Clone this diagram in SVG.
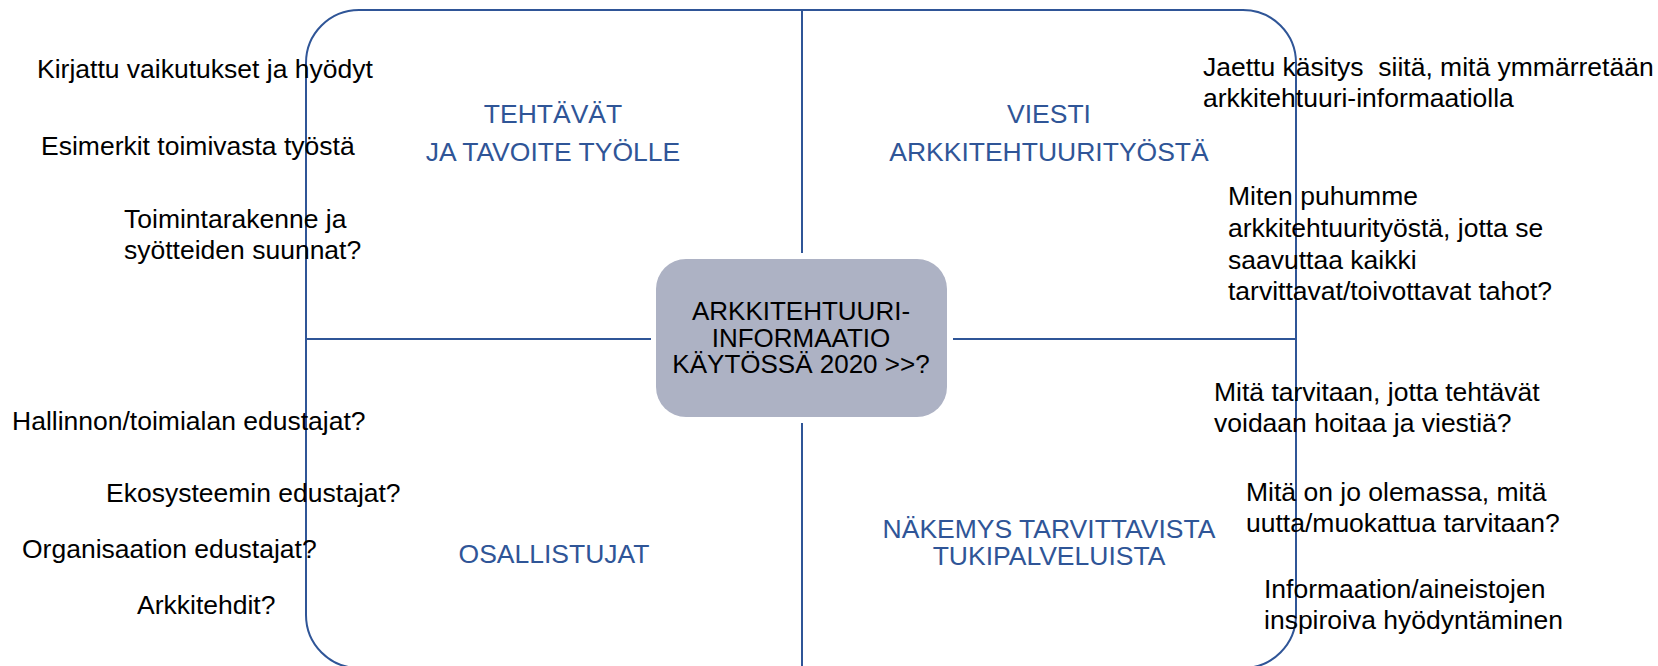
<svg xmlns="http://www.w3.org/2000/svg" width="1658" height="666" viewBox="0 0 1658 666">
<style>
.t{font-family:"Liberation Sans",Arial,sans-serif;font-size:26.5px;fill:#000}
.b{font-family:"Liberation Sans",Arial,sans-serif;font-size:26.5px;fill:#2F5597;text-anchor:middle}
.c{font-family:"Liberation Sans",Arial,sans-serif;font-size:26px;fill:#000;text-anchor:middle}
.ln{stroke:#2F5597;stroke-width:2;fill:none}
</style>
<rect width="1658" height="666" fill="#fff"/>
<g id="frame">
<rect class="ln" x="306" y="10" width="990" height="658" rx="53" ry="53"/>
</g>
<g id="connectors">
<line class="ln" x1="802" y1="10" x2="802" y2="253"/>
<line class="ln" x1="802" y1="423" x2="802" y2="666"/>
<line class="ln" x1="306" y1="339" x2="651" y2="339"/>
<line class="ln" x1="953" y1="339" x2="1296" y2="339"/>
</g>
<g id="center">
<rect x="656" y="259" width="291" height="158" rx="30" ry="30" fill="#ADB2C4"/>
<text class="c" x="801" y="320">ARKKITEHTUURI-</text>
<text class="c" x="801" y="346.5">INFORMAATIO</text>
<text class="c" x="801" y="373">KÄYTÖSSÄ 2020 &gt;&gt;?</text>
</g>
<g id="q-tehtavat">
<text class="b" x="553" y="123">TEHTÄVÄT</text>
<text class="b" x="553" y="161">JA TAVOITE TYÖLLE</text>
</g>
<g id="q-viesti">
<text class="b" x="1049" y="123">VIESTI</text>
<text class="b" x="1049" y="161">ARKKITEHTUURITYÖSTÄ</text>
</g>
<g id="q-osallistujat">
<text class="b" x="554" y="563">OSALLISTUJAT</text>
</g>
<g id="q-nakemys">
<text class="b" x="1049" y="538">NÄKEMYS TARVITTAVISTA</text>
<text class="b" x="1049" y="565">TUKIPALVELUISTA</text>
</g>
<g id="n-kirjattu"><text class="t" x="37" y="78">Kirjattu vaikutukset ja hyödyt</text></g>
<g id="n-esimerkit"><text class="t" x="41" y="155">Esimerkit toimivasta työstä</text></g>
<g id="n-toimintarakenne">
<text class="t" x="124" y="228">Toimintarakenne ja</text>
<text class="t" x="124" y="259">syötteiden suunnat?</text>
</g>
<g id="n-hallinnon"><text class="t" x="12" y="430">Hallinnon/toimialan edustajat?</text></g>
<g id="n-ekosysteemin"><text class="t" x="106" y="502">Ekosysteemin edustajat?</text></g>
<g id="n-organisaation"><text class="t" x="22" y="558">Organisaation edustajat?</text></g>
<g id="n-arkkitehdit"><text class="t" x="137" y="614">Arkkitehdit?</text></g>
<g id="n-jaettu">
<text class="t" x="1203" y="76" xml:space="preserve">Jaettu käsitys  siitä, mitä ymmärretään</text>
<text class="t" x="1203" y="107">arkkitehtuuri-informaatiolla</text>
</g>
<g id="n-miten">
<text class="t" x="1228" y="205">Miten puhumme</text>
<text class="t" x="1228" y="237">arkkitehtuurityöstä, jotta se</text>
<text class="t" x="1228" y="269">saavuttaa kaikki</text>
<text class="t" x="1228" y="300">tarvittavat/toivottavat tahot?</text>
</g>
<g id="n-mita-tarvitaan">
<text class="t" x="1214" y="401">Mitä tarvitaan, jotta tehtävät</text>
<text class="t" x="1214" y="432">voidaan hoitaa ja viestiä?</text>
</g>
<g id="n-mita-on">
<text class="t" x="1246" y="501">Mitä on jo olemassa, mitä</text>
<text class="t" x="1246" y="532">uutta/muokattua tarvitaan?</text>
</g>
<g id="n-informaation">
<text class="t" x="1264" y="598">Informaation/aineistojen</text>
<text class="t" x="1264" y="629">inspiroiva hyödyntäminen</text>
</g>
</svg>
